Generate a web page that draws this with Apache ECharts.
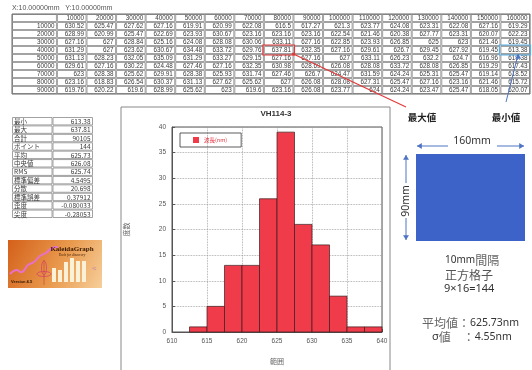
<!DOCTYPE html>
<html>
<head>
<meta charset="utf-8">
<script src="https://cdn.jsdelivr.net/npm/echarts@6/dist/echarts.min.js"></script>
<style>
  html, body { margin: 0; padding: 0; background: #fff; }
  #c { width: 532px; height: 370px; }
</style>
</head>
<body>
<div id="c"></div>
<script>
// ---- measured wavelength map (nm), X pitch 10 mm, Y pitch 10 mm ----
const colHeaders = ['10000','20000','30000','40000','50000','60000','70000','80000',
                    '90000','100000','110000','120000','130000','140000','150000','160000'];
const rowHeaders = ['10000','20000','30000','40000','50000','60000','70000','80000','90000'];

const y10000 = [630.52, 625.47, 627.62, 627.16, 619.91, 620.99, 622.08, 616.5, 617.27, 621.3, 623.77, 624.08, 623.31, 622.08, 627.16, 619.29];
const y20000 = [628.99, 620.99, 625.47, 622.69, 623.93, 630.67, 623.16, 623.16, 623.16, 622.54, 621.46, 620.38, 627.77, 623.31, 620.07, 622.23];
const y30000 = [627.16, 627, 628.84, 625.16, 624.08, 628.08, 630.06, 633.11, 627.16, 622.85, 623.93, 626.85, 625, 623, 621.46, 619.45];
const y40000 = [631.29, 627, 623.62, 630.67, 634.48, 633.72, 629.76, 637.81, 632.35, 627.16, 629.61, 626.7, 629.45, 627.92, 619.45, 613.38];
const y50000 = [631.13, 628.23, 632.05, 635.09, 631.29, 633.27, 629.15, 627.16, 627.16, 627, 633.11, 626.23, 632.2, 624.7, 616.96, 619.38];
const y60000 = [629.61, 627.16, 630.22, 624.48, 627.46, 627.16, 632.35, 630.98, 628.69, 626.08, 628.08, 633.72, 628.08, 626.85, 619.29, 617.43];
const y70000 = [623, 628.38, 625.62, 629.91, 628.38, 625.93, 631.74, 627.46, 626.7, 624.47, 631.59, 624.24, 625.31, 625.47, 619.14, 618.52];
const y80000 = [623.16, 618.83, 626.54, 630.37, 631.13, 627.62, 625.62, 627, 626.08, 628.08, 627.31, 625.47, 627.16, 623.16, 621.46, 615.72];
const y90000 = [619.76, 620.22, 619.6, 628.99, 625.62, 623, 619.6, 623.16, 626.08, 623.77, 624, 624.24, 623.47, 625.47, 618.05, 620.07];

// ---- statistics ----
const statNames  = ['最小', '最大', '合計', 'ポイント', '平均', '中央値', 'RMS', '標準偏差', '分散', '標準誤差', '歪度', '尖度'];
const statValues = ['613.38', '637.81', '90105', '144', '625.73', '626.08', '625.74', '4.5495', '20.698', '0.37912', '-0.080033', '-0.28053'];

// ---- histogram (bin start, count) ----
const binStarts = [612.5, 615, 617.5, 620, 622.5, 625, 627.5, 630, 632.5, 635, 637.5];
const binCounts = [1, 5, 13, 13, 26, 39, 21, 17, 7, 1, 1];
const BIN_WIDTH = 2.5;

// ---- summary ----
const meanText = '625.73nm';
const sigmaText = '4.55nm';

const LATIN = '"Liberation Sans", Arial, sans-serif';
const JP = '"Noto Sans CJK JP", sans-serif';
const LABEL_X0 = -1.52;   // start of the (wider) row-label column on the table axis

// table cells: [x0, x1, row]
const valueRows = [y10000, y20000, y30000, y40000, y50000, y60000, y70000, y80000, y90000];
const tableCells = [];
tableCells.push({ v: [LABEL_X0, 0, 0], text: '' });
colHeaders.forEach((h, c) => tableCells.push({ v: [c, c + 1, 0], text: h }));
valueRows.forEach((row, r) => {
  tableCells.push({ v: [LABEL_X0, 0, r + 1], text: rowHeaders[r] });
  row.forEach((val, c) => tableCells.push({ v: [c, c + 1, r + 1], text: String(val) }));
});

const statCells = [];
statNames.forEach((n, r) => {
  statCells.push({ v: [0, 1, r], text: n, align: 'left' });
  statCells.push({ v: [1, 2, r], text: statValues[r], align: 'right' });
});

function cellRenderer(cells, font, color) {
  return function (params, api) {
    const cell = cells[params.dataIndex];
    const p0 = api.coord([api.value(0), api.value(2)]);
    const p1 = api.coord([api.value(1), api.value(2) + 1]);
    const x = Math.min(p0[0], p1[0]), y = Math.min(p0[1], p1[1]);
    const w = Math.abs(p1[0] - p0[0]), h = Math.abs(p1[1] - p0[1]);
    const left = cell.align === 'left';
    return {
      type: 'group',
      children: [
        { type: 'rect', shape: { x: x + 0.5, y: y + 0.5, width: w - 1, height: h - 1 },
          style: { fill: '#fff', stroke: '#8a8a8a', lineWidth: 0.8 } },
        { type: 'text', style: { text: cell.text, x: left ? x + 2 : x + w - 2.5, y: y + h / 2 + 0.3,
          align: left ? 'left' : 'right', verticalAlign: 'middle', font: font, fill: color } }
      ]
    };
  };
}

function binRenderer(params, api) {
  const p0 = api.coord([api.value(0), api.value(1)]);
  const p1 = api.coord([api.value(0) + BIN_WIDTH, 0]);
  return {
    type: 'rect',
    shape: { x: p0[0], y: p0[1], width: p1[0] - p0[0], height: p1[1] - p0[1] },
    style: { fill: api.visual('color'), stroke: '#3a1c1c', lineWidth: 0.7 }
  };
}

const chart = echarts.init(document.getElementById('c'));

const hiddenValueAxis = (grid, min, max, inverse) => ({
  type: 'value', gridIndex: grid, min: min, max: max, inverse: !!inverse, show: false
});

const option = {
  animation: false,
  backgroundColor: '#fff',
  grid: [
    { left: 12, top: 14, width: 518, height: 80 },
    { left: 12, top: 117, width: 81, height: 101 },
    { left: 172, right: 150, top: 127, bottom: 37, show: true, borderColor: '#555', borderWidth: 1 }
  ],
  xAxis: [
    hiddenValueAxis(0, LABEL_X0, 16),
    hiddenValueAxis(1, 0, 2),
    {
      type: 'value', gridIndex: 2, min: 610, max: 640, interval: 5,
      name: '範囲', nameLocation: 'middle', nameGap: 26,
      nameTextStyle: { fontFamily: JP, fontSize: 7, color: '#666' },
      axisLine: { show: true, lineStyle: { color: '#555', width: 1 } },
      axisTick: { show: true, inside: true, length: 3, lineStyle: { color: '#555' } },
      axisLabel: { fontFamily: LATIN, fontSize: 6.5, color: '#555', margin: 6 },
      splitLine: { show: true, lineStyle: { type: 'dotted', color: '#9a9a9a', width: 0.8 } }
    }
  ],
  yAxis: [
    hiddenValueAxis(0, 0, 10, true),
    hiddenValueAxis(1, 0, 12, true),
    {
      type: 'value', gridIndex: 2, min: 0, max: 40, interval: 5,
      name: '度数', nameLocation: 'middle', nameGap: 42, nameRotate: 90,
      nameTextStyle: { fontFamily: JP, fontSize: 7, color: '#666' },
      axisLine: { show: true, lineStyle: { color: '#555', width: 1 } },
      axisTick: { show: true, inside: true, length: 3, lineStyle: { color: '#555' } },
      axisLabel: { fontFamily: LATIN, fontSize: 6.5, color: '#555', margin: 6 },
      splitLine: { show: true, lineStyle: { type: 'dotted', color: '#9a9a9a', width: 0.8 } }
    }
  ],
  legend: {
    left: 180, top: 133,
    data: [{ name: '波長(nm)', icon: 'rect' }],
    itemWidth: 6, itemHeight: 6,
    padding: [4, 14, 4, 13],
    borderColor: '#333', borderWidth: 0.8,
    textStyle: { fontFamily: JP, fontSize: 5.5, color: '#e0303c' }
  },
  series: [
    {
      type: 'custom', xAxisIndex: 0, yAxisIndex: 0,
      data: tableCells.map(c => c.v),
      encode: { x: [0, 1], y: 2 },
      renderItem: cellRenderer(tableCells, '6.3px ' + LATIN, '#3a3a3a'),
      silent: true
    },
    {
      type: 'custom', xAxisIndex: 1, yAxisIndex: 1,
      data: statCells.map(c => c.v),
      encode: { x: [0, 1], y: 2 },
      renderItem: cellRenderer(statCells, '6.5px ' + JP, '#3a3a3a'),
      silent: true
    },
    {
      type: 'custom', name: '波長(nm)', xAxisIndex: 2, yAxisIndex: 2,
      itemStyle: { color: '#ef3b4a' },
      data: binStarts.map((s, i) => [s, binCounts[i]]),
      encode: { x: 0, y: 1 },
      renderItem: binRenderer
    }
  ]
};
chart.setOption(option);

// annotation helpers in table coordinates
const maxRow = 4, maxCol = y40000.indexOf(Math.max(...y40000));
const minRow = 4, minCol = y40000.indexOf(Math.min(...y40000));
const cellBox = (c, r) => {
  const a = chart.convertToPixel({ gridIndex: 0 }, [c, r]);
  const b = chart.convertToPixel({ gridIndex: 0 }, [c + 1, r + 1]);
  return { x: a[0], y: a[1], w: b[0] - a[0], h: b[1] - a[1] };
};
const mx = cellBox(maxCol, maxRow);
const mn = cellBox(minCol, minRow);

const arrowHead = (x, y, dir, color) => {
  // small filled triangle; dir: 'l','r','u','d'
  const s = 3;
  const pts = {
    l: [[x, y], [x + s * 1.6, y - s], [x + s * 1.6, y + s]],
    r: [[x, y], [x - s * 1.6, y - s], [x - s * 1.6, y + s]],
    u: [[x, y], [x - s, y + s * 1.6], [x + s, y + s * 1.6]],
    d: [[x, y], [x - s, y - s * 1.6], [x + s, y - s * 1.6]]
  }[dir];
  return { type: 'polygon', z: 100, shape: { points: pts }, style: { fill: color } };
};

const BLUE = '#4f74c4';
const RED = '#e23a3a';
const graphics = [
  // coordinate pitch caption
  { type: 'text', z: 100, style: { text: 'X:10.00000mm   Y:10.00000mm', x: 12, y: 8, font: '7px ' + LATIN, fill: '#555', verticalAlign: 'middle' } },
  // outer table border
  { type: 'rect', z: 100, shape: { x: 12, y: 14, width: 518, height: 80 }, style: { fill: 'none', stroke: '#666', lineWidth: 1 } },
  // maximum marker
  { type: 'rect', z: 100, shape: { x: mx.x - 1, y: mx.y - 1, width: mx.w + 2, height: mx.h + 2 }, style: { fill: 'none', stroke: RED, lineWidth: 1.2 } },
  { type: 'line', z: 100, shape: { x1: mx.x + mx.w, y1: mx.y + mx.h, x2: 406, y2: 107 }, style: { stroke: RED, lineWidth: 1.2 } },
  { type: 'circle', z: 100, shape: { cx: mx.x + mx.w, cy: mx.y + mx.h, r: 1.6 }, style: { fill: RED } },
  { type: 'text', z: 100, style: { text: '最大値', x: 422, y: 117, align: 'center', verticalAlign: 'middle', font: 'bold 9.5px ' + JP, fill: '#222' } },
  // minimum marker
  { type: 'rect', z: 100, shape: { x: mn.x - 1, y: mn.y - 1, width: mn.w + 1.5, height: mn.h + 2 }, style: { fill: 'none', stroke: '#5ab0e8', lineWidth: 1.2 } },
  { type: 'line', z: 100, shape: { x1: mn.x + mn.w / 2 + 3, y1: mn.y + mn.h, x2: 506, y2: 102 }, style: { stroke: BLUE, lineWidth: 1 } },
  arrowHead(mn.x + mn.w / 2 + 3, mn.y + mn.h, 'u', BLUE),
  { type: 'text', z: 100, style: { text: '最小値', x: 506, y: 117, align: 'center', verticalAlign: 'middle', font: 'bold 9.5px ' + JP, fill: '#222' } },

  // histogram panel frame and title
  { type: 'rect', z: -1, shape: { x: 121, y: 107, width: 269, height: 275 }, style: { fill: 'none', stroke: '#888', lineWidth: 1 } },
  { type: 'text', z: 100, style: { text: 'VH114-3', x: 276, y: 114, align: 'center', verticalAlign: 'middle', font: 'bold 8px ' + LATIN, fill: '#333' } },

  // software badge
  {
    type: 'group', children: [
      { type: 'rect', shape: { x: 8, y: 240, width: 94, height: 48 },
        style: { fill: new echarts.graphic.LinearGradient(0, 0, 1, 1, [
          { offset: 0, color: '#d4601a' }, { offset: 0.55, color: '#e99a4e' }, { offset: 1, color: '#f6cf9a' }]) } },
      { type: 'polyline', shape: { points: [[10, 274], [16, 270], [22, 272], [28, 265], [34, 262], [40, 256], [46, 253], [52, 248], [58, 247]], smooth: 0.5 },
        style: { stroke: '#e870c8', lineWidth: 2, fill: 'none' } },
      { type: 'ellipse', shape: { cx: 44, cy: 268, rx: 2.5, ry: 7 }, style: { fill: 'none', stroke: '#d8406a', lineWidth: 0.8 } },
      { type: 'ellipse', shape: { cx: 44, cy: 274, rx: 7, ry: 2.5 }, style: { fill: 'none', stroke: '#d8406a', lineWidth: 0.8 } },
      { type: 'line', shape: { x1: 44, y1: 260, x2: 44, y2: 285 }, style: { stroke: '#c04040', lineWidth: 0.6 } },
      { type: 'rect', shape: { x: 52, y: 268, width: 4, height: 14 }, style: { fill: '#fbf1d6' } },
      { type: 'rect', shape: { x: 58, y: 270, width: 4, height: 12 }, style: { fill: '#fbf1d6' } },
      { type: 'rect', shape: { x: 64, y: 262, width: 4, height: 20 }, style: { fill: '#fbf1d6' } },
      { type: 'rect', shape: { x: 70, y: 258, width: 4, height: 24 }, style: { fill: '#fbf1d6' } },
      { type: 'rect', shape: { x: 76, y: 261, width: 4, height: 21 }, style: { fill: '#fbf1d6' } },
      { type: 'rect', shape: { x: 82, y: 261, width: 4, height: 21 }, style: { fill: '#fbf1d6' } },
      { type: 'text', style: { text: 'KaleidaGraph', x: 72, y: 249, align: 'center', verticalAlign: 'middle', font: 'bold 7px "Liberation Serif", serif', fill: '#3b1a00' } },
      { type: 'text', style: { text: 'Tools for discovery', x: 72, y: 255, align: 'center', verticalAlign: 'middle', font: 'italic 3.5px "Liberation Serif", serif', fill: '#3b1a00' } },
      { type: 'text', style: { text: 'Version 4.5', x: 11, y: 282, verticalAlign: 'middle', font: 'bold 4px ' + LATIN, fill: '#2a1500' } },
      { type: 'text', style: { text: '°C', x: 92, y: 269, verticalAlign: 'middle', font: '4px ' + LATIN, fill: '#b060c0' } }
    ]
  },

  // sample area sketch
  { type: 'rect', shape: { x: 416, y: 154, width: 109, height: 87 }, style: { fill: '#3e63c8' } },
  { type: 'line', shape: { x1: 417, y1: 146, x2: 448, y2: 146 }, style: { stroke: BLUE, lineWidth: 1 } },
  arrowHead(417, 146, 'l', BLUE),
  { type: 'line', shape: { x1: 497, y1: 146, x2: 524, y2: 146 }, style: { stroke: BLUE, lineWidth: 1 } },
  arrowHead(524, 146, 'r', BLUE),
  { type: 'text', style: { text: '160mm', x: 472, y: 141, align: 'center', verticalAlign: 'middle', font: '10.5px "Noto Sans", sans-serif', fill: '#333' } },
  { type: 'line', shape: { x1: 406, y1: 155, x2: 406, y2: 183 }, style: { stroke: BLUE, lineWidth: 1 } },
  arrowHead(406, 155, 'u', BLUE),
  { type: 'line', shape: { x1: 406, y1: 218, x2: 406, y2: 240 }, style: { stroke: BLUE, lineWidth: 1 } },
  arrowHead(406, 240, 'd', BLUE),
  { type: 'text', x: 406, y: 201, rotation: Math.PI / 2,
    style: { text: '90mm', x: 0, y: 0, align: 'center', verticalAlign: 'middle', font: '10.5px "Noto Sans", sans-serif', fill: '#333' } },

  // grid description
  { type: 'text', style: { text: '{l|10mm}{j|間隔}', x: 445, y: 260, verticalAlign: 'middle',
      rich: { l: { fontFamily: '"Noto Sans", sans-serif', fontSize: 10, fill: '#333' }, j: { fontFamily: JP, fontSize: 12, fill: '#666' } } } },
  { type: 'text', style: { text: '正方格子', x: 445, y: 275, verticalAlign: 'middle', font: '12px ' + JP, fill: '#555' } },
  { type: 'text', style: { text: '9×16=144', x: 444, y: 289, verticalAlign: 'middle', font: '11px "Noto Sans", sans-serif', fill: '#333' } },

  // summary values
  { type: 'text', style: { text: '{j|平均値：}{l|' + meanText + '}', x: 422, y: 323, verticalAlign: 'middle',
      rich: { j: { fontFamily: JP, fontSize: 12, fill: '#666' }, l: { fontFamily: '"Noto Sans", sans-serif', fontSize: 10.5, fill: '#333' } } } },
  { type: 'text', style: { text: '{s|σ}{j|値　：}{l|' + sigmaText + '}', x: 432, y: 337, verticalAlign: 'middle',
      rich: { s: { fontFamily: '"Noto Sans", sans-serif', fontSize: 11, fill: '#333' }, j: { fontFamily: JP, fontSize: 12, fill: '#666' }, l: { fontFamily: '"Noto Sans", sans-serif', fontSize: 10.5, fill: '#333' } } } }
];

chart.setOption({ graphic: { elements: graphics } });
</script>
</body>
</html>
